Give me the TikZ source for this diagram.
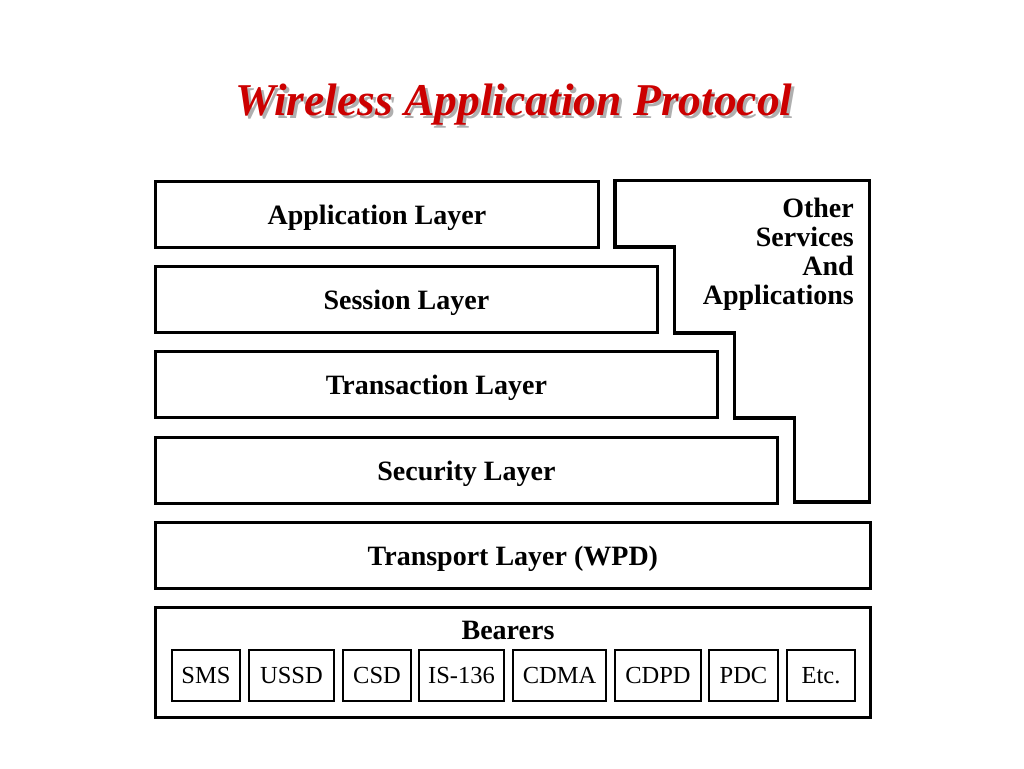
\documentclass[tikz,border=0pt]{standalone}
\usepackage{fontspec}
\setmainfont{Liberation Serif}
\definecolor{titlered}{RGB}{204,0,0}
\definecolor{shadowgray}{RGB}{175,175,175}
\begin{document}
\begin{tikzpicture}[x=1pt,y=-1pt,
  layer/.style={draw, line width=2.8pt, rectangle, anchor=north west, inner sep=0pt,
    minimum height=66pt, text depth=0pt, font=\fontsize{28}{30}\selectfont\bfseries},
  bearer/.style={draw, line width=2pt, rectangle, anchor=north west, inner sep=0pt,
    minimum height=51pt, font=\fontsize{24.5}{26}\selectfont},
  titlefont/.style={font=\fontsize{45.5}{48}\selectfont\bfseries\itshape}]
\useasboundingbox[fill=white] (0,0) rectangle (1024,768);
% title with shadow
\node[titlefont, text=shadowgray] (titleshadow) at (517,108) {Wireless Application Protocol};
\node[titlefont, text=titlered] (title) at (514,105) {Wireless Application Protocol};
% layers
\node[layer, minimum width=443pt] (app) at (154,180) {Application Layer};
\node[layer, minimum width=502pt] (sess) at (154,265) {Session Layer};
\node[layer, minimum width=562pt] (trans) at (154,350) {Transaction Layer};
\node[layer, minimum width=622pt] (sec) at (154,436) {Security Layer};
\node[layer, minimum width=715pt] (transp) at (154,521) {Transport Layer (WPD)};
\node[layer, minimum width=715pt, minimum height=110pt] (bear) at (154,606) {};
\node[font=\fontsize{28}{30}\selectfont\bfseries] (bearlabel) at (508,630) {Bearers};
% other services
\draw[line width=3.3pt, line join=miter]
  (615,180.5) -- (869.5,180.5) -- (869.5,502) -- (794.5,502) -- (794.5,418) -- (734.5,418)
  -- (734.5,333) -- (674.5,333) -- (674.5,247) -- (615,247) -- cycle;
\node[anchor=north east, align=right, inner sep=0pt,
  font=\fontsize{28}{29}\selectfont\bfseries] (other) at (854,198)
  {Other\\Services\\And\\Applications};
% bearers
\node[bearer, minimum width=68pt] (sms) at (171,649) {SMS};
\node[bearer, minimum width=85pt] (ussd) at (248,649) {USSD};
\node[bearer, minimum width=68pt] (csd) at (342,649) {CSD};
\node[bearer, minimum width=85pt] (is) at (418,649) {IS-136};
\node[bearer, minimum width=93pt] (cdma) at (512,649) {CDMA};
\node[bearer, minimum width=86pt] (cdpd) at (614,649) {CDPD};
\node[bearer, minimum width=69pt] (pdc) at (708,649) {PDC};
\node[bearer, minimum width=68pt] (etc) at (786,649) {Etc.};
\end{tikzpicture}
\end{document}
